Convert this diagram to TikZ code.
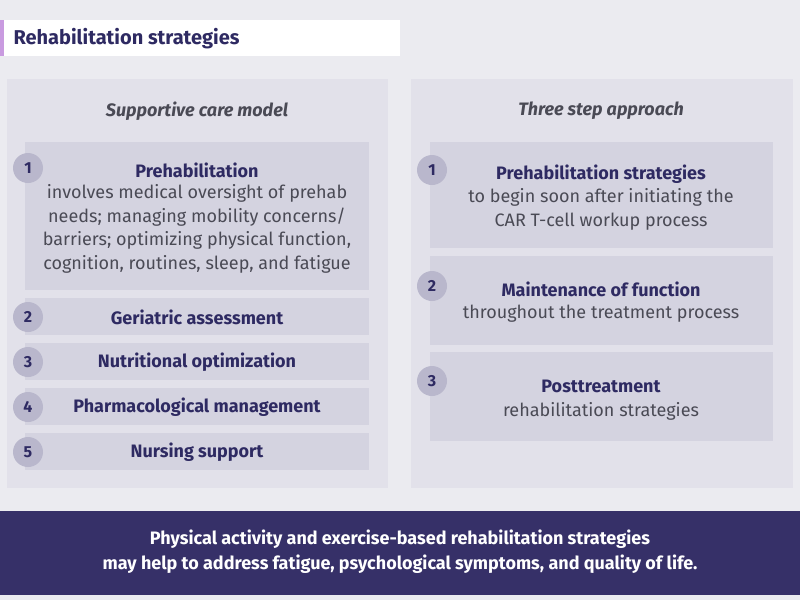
\documentclass[tikz,border=0pt]{standalone}
\usepackage{fontspec}
\setmainfont{Fira Sans}
\begin{document}
\begin{tikzpicture}[x=1pt,y=-1pt,
  dk/.style={text=hd},
  box/.style={fill=bx,draw=none},
  num/.style={circle,fill=cc,text=hd,minimum size=30pt,inner sep=0pt,font=\fontsize{16}{18}\selectfont\bfseries},
  hdr/.style={font=\fontsize{18}{22}\selectfont\bfseries\itshape,text=gr},
  ttl/.style={font=\fontsize{18}{23}\selectfont\bfseries,text=hd,align=center},
  body/.style={font=\fontsize{18}{23.5}\selectfont,text=gr,align=center}]
\definecolor{bg}{HTML}{EBEBF0}
\definecolor{pn}{HTML}{E2E1EA}
\definecolor{bx}{HTML}{D4D3E0}
\definecolor{cc}{HTML}{B9B7CC}
\definecolor{hd}{HTML}{2E2A62}
\definecolor{gr}{HTML}{4A4A55}
\definecolor{band}{HTML}{363068}
\definecolor{pur}{HTML}{C99BE0}
\fill[bg] (0,0) rectangle (800,600);
\useasboundingbox (0,0) rectangle (800,600);
\fill[white] (4,20) rectangle (400,56);
\fill[pur] (0,20) rectangle (4,56);
\node[anchor=west,font=\fontsize{20}{24}\selectfont\bfseries,text=hd] (title) at (10,39) {Rehabilitation strategies};
\fill[pn] (7,79) rectangle (388,488);
\fill[pn] (411,79) rectangle (793,488);
\node[hdr] (lh) at (197,111) {Supportive care model};
\node[hdr] (rh) at (601,111) {Three step approach};
% left
\fill[box] (25,142) rectangle (369,290);
\node[ttl] (l1t) at (197,170) {Prehabilitation};
\node[body,anchor=north] (l1b) at (197,181) {involves medical oversight of prehab\\needs; managing mobility concerns/\\barriers; optimizing physical function,\\cognition, routines, sleep, and fatigue};
\node[num] (n1) at (28,168) {1};
\fill[box] (25,298) rectangle (369,335);
\node[ttl] (l2) at (197,317) {Geriatric assessment};
\node[num] (n2) at (28,317) {2};
\fill[box] (25,343) rectangle (369,380);
\node[ttl] (l3) at (197,362) {Nutritional optimization};
\node[num] (n3) at (28,362) {3};
\fill[box] (25,388) rectangle (369,425);
\node[ttl] (l4) at (197,407) {Pharmacological management};
\node[num] (n4) at (28,407) {4};
\fill[box] (25,433) rectangle (369,470);
\node[ttl] (l5) at (197,452) {Nursing support};
\node[num] (n5) at (28,452) {5};
% right
\fill[box] (430,142) rectangle (773,248);
\node[ttl] (r1t) at (601,174) {Prehabilitation strategies};
\node[body,anchor=north] (r1b) at (601,185) {to begin soon after initiating the\\CAR T-cell workup process};
\node[num] (m1) at (432,170) {1};
\fill[box] (430,256) rectangle (773,345);
\node[ttl] (r2t) at (601,289) {Maintenance of function};
\node[body] (r2b) at (601,314) {throughout the treatment process};
\node[num] (m2) at (432,286) {2};
\fill[box] (430,352) rectangle (773,441);
\node[ttl] (r3t) at (601,386) {Posttreatment};
\node[body] (r3b) at (601,411) {rehabilitation strategies};
\node[num] (m3) at (432,381) {3};
% band
\fill[band] (0,511) rectangle (800,595);
\node[font=\fontsize{18}{25}\selectfont\bfseries,text=white,align=center] (foot) at (400,552) {Physical activity and exercise-based rehabilitation strategies\\may help to address fatigue, psychological symptoms, and quality of life.};
\end{tikzpicture}
\end{document}
